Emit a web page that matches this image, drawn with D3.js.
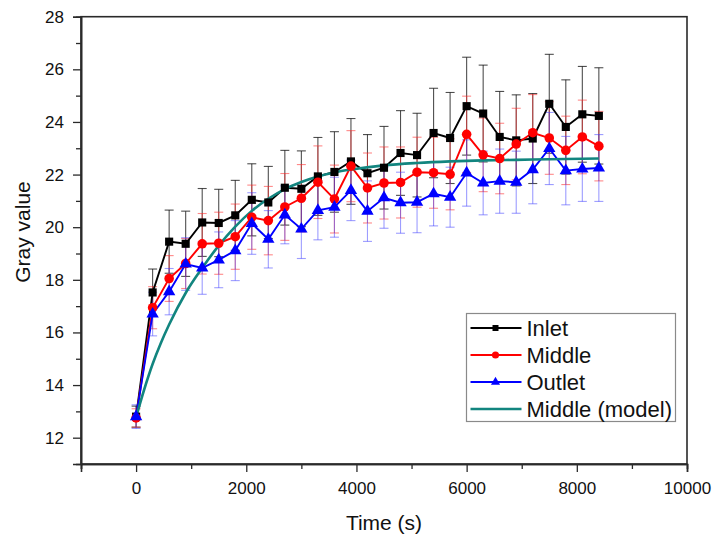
<!DOCTYPE html>
<html>
<head>
<meta charset="utf-8">
<script src="https://cdn.jsdelivr.net/npm/d3@7"></script>
<style>
  body { margin: 0; background: #fff; }
  text { font-family: Arial, "Liberation Sans", sans-serif; fill: #111; }
</style>
</head>
<body>
<svg id="chart" width="713" height="537"></svg>
<script>
// Sampling times (s)
const time = [0, 300, 600, 900, 1200, 1500, 1800, 2100, 2400, 2700, 3000, 3300, 3600, 3900, 4200,
              4500, 4800, 5100, 5400, 5700, 6000, 6300, 6600, 6900, 7200, 7500, 7800, 8100, 8400];

// Measured gray values and their standard deviations
const inlet     = [12.8, 17.52, 19.45, 19.37, 20.18, 20.16, 20.45, 21.04, 20.94, 21.50, 21.46, 21.93, 22.10, 22.50, 22.05,
                   22.26, 22.82, 22.74, 23.58, 23.39, 24.60, 24.32, 23.43, 23.30, 23.37, 24.69, 23.81, 24.29, 24.23];
const inletErr  = [0.40, 0.89, 1.20, 1.24, 1.29, 1.28, 1.33, 1.37, 1.37, 1.42, 1.44, 1.48, 1.53, 1.63, 1.47,
                   1.57, 1.61, 1.59, 1.70, 1.73, 1.86, 1.84, 1.73, 1.73, 1.71, 1.88, 1.79, 1.82, 1.83];

const middle    = [12.75, 16.94, 18.05, 18.62, 19.37, 19.39, 19.64, 20.38, 20.25, 20.77, 21.10, 21.71, 21.07, 22.32, 21.49,
                   21.68, 21.70, 22.09, 22.07, 22.01, 23.53, 22.75, 22.61, 23.16, 23.59, 23.39, 22.92, 23.43, 23.08];
const middleErr = [0.35, 0.80, 0.87, 0.95, 1.15, 1.18, 1.24, 1.22, 1.30, 1.27, 1.28, 1.38, 1.29, 1.35, 1.33,
                   1.37, 1.35, 1.33, 1.35, 1.35, 1.45, 1.40, 1.34, 1.36, 1.45, 1.38, 1.30, 1.40, 1.32];

const outlet    = [12.8, 16.70, 17.55, 18.60, 18.45, 18.76, 19.11, 20.14, 19.54, 20.47, 19.93, 20.64, 20.76, 21.40, 20.61,
                   21.12, 20.93, 20.95, 21.27, 21.14, 22.06, 21.68, 21.75, 21.71, 22.19, 22.99, 22.15, 22.21, 22.25];
const outletErr = [0.45, 0.83, 0.88, 1.00, 1.00, 1.06, 1.14, 1.17, 1.09, 1.10, 1.12, 1.12, 1.14, 1.15, 1.15,
                   1.16, 1.16, 1.16, 1.22, 1.14, 1.26, 1.21, 1.22, 1.18, 1.30, 1.37, 1.30, 1.23, 1.27];

// Fitted model for the middle section
const modelTime  = [0, 150, 300, 450, 600, 900, 1200, 1500, 1800, 2100, 2400, 2700, 3000, 3300, 3600,
                    3900, 4500, 5100, 5700, 6300, 6900, 7500, 8100, 8400];
const modelValue = [12.78, 13.85, 14.80, 15.60, 16.30, 17.50, 18.45, 19.30, 20.02, 20.62, 21.08, 21.45, 21.72, 21.93, 22.08,
                    22.19, 22.35, 22.44, 22.50, 22.54, 22.56, 22.58, 22.60, 22.61];

// Axis ticks
const xMajor = [0, 2000, 4000, 6000, 8000, 10000];
const xMinor = [-1000, 1000, 3000, 5000, 7000, 9000];
const yMajor = [12, 14, 16, 18, 20, 22, 24, 26, 28];
const yMinor = [13, 15, 17, 19, 21, 23, 25, 27];

const seriesNames = ["Inlet", "Middle", "Outlet", "Middle (model)"];

const svg = d3.select("#chart");
const x = d3.scaleLinear().domain([-1000, 10000]).range([81, 687]);
const y = d3.scaleLinear().domain([11, 28]).range([464, 16.7]);

const axisColor = "#2a2a2a";

// Frame
svg.append("rect")
  .attr("x", x(-1000)).attr("y", y(28))
  .attr("width", x(10000) - x(-1000)).attr("height", y(11) - y(28))
  .attr("fill", "none").attr("stroke", axisColor).attr("stroke-width", 1.6);

function styleAxis(g) {
  g.selectAll("path").attr("stroke", axisColor).attr("stroke-width", 1.6);
  g.selectAll("line").attr("stroke", axisColor).attr("stroke-width", 1.3);
  g.selectAll("text").attr("fill", "#111").style("font-size", "17px")
    .style("font-family", "Arial, 'Liberation Sans', sans-serif");
}

// X axis
svg.append("g").attr("transform", `translate(0,${y(11)})`)
  .call(d3.axisBottom(x).tickValues(xMinor).tickSize(5).tickFormat(""))
  .call(styleAxis);
svg.append("g").attr("transform", `translate(0,${y(11)})`)
  .call(d3.axisBottom(x).tickValues(xMajor).tickSize(8).tickPadding(10).tickFormat(d3.format("d")))
  .call(styleAxis);

// Y axis
svg.append("g").attr("transform", `translate(${x(-1000)},0)`)
  .call(d3.axisLeft(y).tickValues(yMinor).tickSize(5).tickFormat(""))
  .call(styleAxis);
svg.append("g").attr("transform", `translate(${x(-1000)},0)`)
  .call(d3.axisLeft(y).tickValues(yMajor).tickSize(8).tickPadding(9).tickFormat(d3.format("d")))
  .call(styleAxis);

// Axis titles
svg.append("text")
  .attr("x", (x(-1000) + x(10000)) / 2).attr("y", 530)
  .attr("text-anchor", "middle").style("font-size", "21px")
  .text("Time (s)");
svg.append("text")
  .attr("transform", "translate(30,232) rotate(-90)")
  .attr("text-anchor", "middle").style("font-size", "21px")
  .text("Gray value");

const series = [
  { name: seriesNames[0], values: inlet,  err: inletErr,  color: "#000000", errColor: "rgba(20,20,20,0.75)",  symbol: d3.symbolSquare,   size: 66 },
  { name: seriesNames[1], values: middle, err: middleErr, color: "#ff0000", errColor: "rgba(255,40,40,0.55)", symbol: d3.symbolCircle,   size: 72 },
  { name: seriesNames[2], values: outlet, err: outletErr, color: "#0000ff", errColor: "rgba(60,60,255,0.5)",  symbol: d3.symbolTriangle, size: 66 }
];
const modelColor = "#12857f";

const plot = svg.append("g");

// Error bars
series.forEach(s => {
  const g = plot.append("g").attr("stroke", s.errColor).attr("stroke-width", 1.1).attr("fill", "none");
  time.forEach((t, i) => {
    const cx = x(t), lo = y(s.values[i] - s.err[i]), hi = y(s.values[i] + s.err[i]);
    g.append("line").attr("x1", cx).attr("x2", cx).attr("y1", lo).attr("y2", hi);
    g.append("line").attr("x1", cx - 4.5).attr("x2", cx + 4.5).attr("y1", lo).attr("y2", lo);
    g.append("line").attr("x1", cx - 4.5).attr("x2", cx + 4.5).attr("y1", hi).attr("y2", hi);
  });
});

// Series lines
const line = d3.line().x(d => x(d[0])).y(d => y(d[1]));
series.forEach(s => {
  plot.append("path")
    .datum(time.map((t, i) => [t, s.values[i]]))
    .attr("d", line)
    .attr("fill", "none").attr("stroke", s.color).attr("stroke-width", 1.9);
});

// Model curve
plot.append("path")
  .datum(modelTime.map((t, i) => [t, modelValue[i]]))
  .attr("d", d3.line().x(d => x(d[0])).y(d => y(d[1])).curve(d3.curveMonotoneX))
  .attr("fill", "none").attr("stroke", modelColor).attr("stroke-width", 2.6);

// Markers
series.forEach(s => {
  plot.append("g").selectAll("path")
    .data(time.map((t, i) => [t, s.values[i]]))
    .join("path")
    .attr("transform", d => `translate(${x(d[0])},${y(d[1])})`)
    .attr("d", d3.symbol().type(s.symbol).size(s.size))
    .attr("fill", s.color);
});

// Legend
const legend = svg.append("g").attr("transform", "translate(466.5,313.5)");
legend.append("rect").attr("width", 209).attr("height", 108)
  .attr("fill", "#fff").attr("stroke", "#8a8a8a").attr("stroke-width", 1.2);
const legendItems = [
  { name: seriesNames[0], color: "#000000", symbol: d3.symbolSquare,   size: 36 },
  { name: seriesNames[1], color: "#ff0000", symbol: d3.symbolCircle,   size: 40 },
  { name: seriesNames[2], color: "#0000ff", symbol: d3.symbolTriangle, size: 36 },
  { name: seriesNames[3], color: modelColor, symbol: null }
];
legendItems.forEach((it, i) => {
  const ly = 14.5 + i * 27;
  const row = legend.append("g").attr("transform", `translate(0,${ly})`);
  row.append("line").attr("x1", 4).attr("x2", 55).attr("y1", 0).attr("y2", 0)
    .attr("stroke", it.color).attr("stroke-width", it.symbol ? 1.8 : 2.6);
  if (it.symbol) {
    row.append("path").attr("transform", "translate(29,0)")
      .attr("d", d3.symbol().type(it.symbol).size(it.size)).attr("fill", it.color);
  }
  row.append("text").attr("x", 60).attr("y", 8).style("font-size", "22px").text(it.name);
});
</script>
</body>
</html>
